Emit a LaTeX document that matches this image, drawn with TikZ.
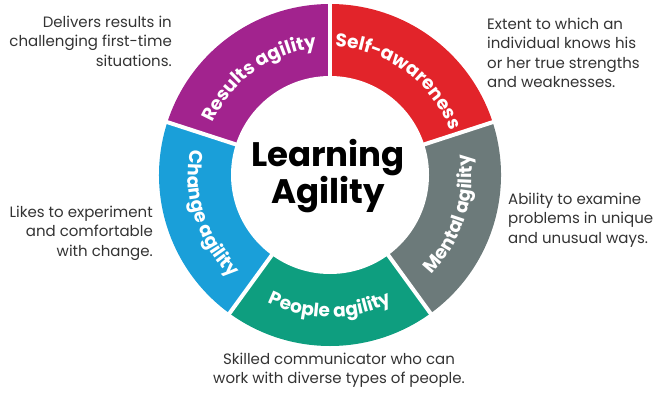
\documentclass[tikz,border=0pt]{standalone}
\usepackage{fontspec}
\setmainfont{Poppins}
\usetikzlibrary{decorations.text}
\definecolor{agred}{RGB}{226,36,42}
\definecolor{agpurple}{RGB}{162,35,142}
\definecolor{agblue}{RGB}{26,159,217}
\definecolor{aggray}{RGB}{108,122,122}
\definecolor{aggreen}{RGB}{14,158,127}
\definecolor{agtext}{RGB}{51,51,51}
\newcommand{\segfont}{\fontsize{18.5}{18.5}\selectfont\bfseries}

\begin{document}
\begin{tikzpicture}[x=1pt, y=1pt,
  desc/.style={font=\fontsize{15}{19.5}\selectfont, text=agtext, inner sep=0pt},
  seglabel/.style={decorate, decoration={text along path, text align=center, text color=white, text={|\segfont|#1}}}]
  \useasboundingbox (0,0) rectangle (658,400);

  \begin{scope}[shift={(330,225)}]
    %--- ring segments ---
    \fill[agpurple] (0,0) -- (90:171) arc[start angle=90, end angle=162, radius=171] -- cycle;
    \fill[agred] (0,0) -- (18:171) arc[start angle=18, end angle=90, radius=171] -- cycle;
    \fill[aggray] (0,0) -- (-54:171) arc[start angle=-54, end angle=18, radius=171] -- cycle;
    \fill[aggreen] (0,0) -- (-126:171) arc[start angle=-126, end angle=-54, radius=171] -- cycle;
    \fill[agblue] (0,0) -- (162:171) arc[start angle=162, end angle=234, radius=171] -- cycle;
    \foreach \a in {18,90,162,234,306}
      \draw[white, line width=4] (0,0) -- (\a:176);
    \node[circle, fill=white, inner sep=0pt, minimum size=198] (hub) at (0,0) {};

    %--- labels on the ring ---
    \path[seglabel={Results agility}] (162:128) arc[start angle=162, end angle=90, radius=128];
    \path[seglabel={Self-awareness}] (90:128) arc[start angle=90, end angle=18, radius=128];
    \path[seglabel={Mental agility}] (-54:142) arc[start angle=-54, end angle=18, radius=142];
    \path[seglabel={People agility}] (-126:142) arc[start angle=-126, end angle=-54, radius=142];
    \path[seglabel={Change agility}] (162:142) arc[start angle=162, end angle=234, radius=142];

    \node[font=\fontsize{34}{34}\selectfont\bfseries, align=center, inner sep=0pt] (learning) at (-2,-1) {Learning\\Agility};
  \end{scope}

  %--- descriptions ---
  \node[desc, anchor=east, align=right] (resultsdesc) at (172,359) {Delivers results in\\challenging first-time\\situations.};
  \node[desc, anchor=west, align=left] (selfdesc) at (487,347) {Extent to which an\\individual knows his\\or her true strengths\\and weaknesses.};
  \node[desc, anchor=east, align=right] (changedesc) at (153,167) {Likes to experiment\\and comfortable\\with change.};
  \node[desc, anchor=west, align=left] (mentaldesc) at (508,180) {Ability to examine\\problems in unique\\and unusual ways.};
  \node[desc, align=center] (peopledesc) at (339,30) {Skilled communicator who can\\work with diverse types of people.};
\end{tikzpicture}
\end{document}
